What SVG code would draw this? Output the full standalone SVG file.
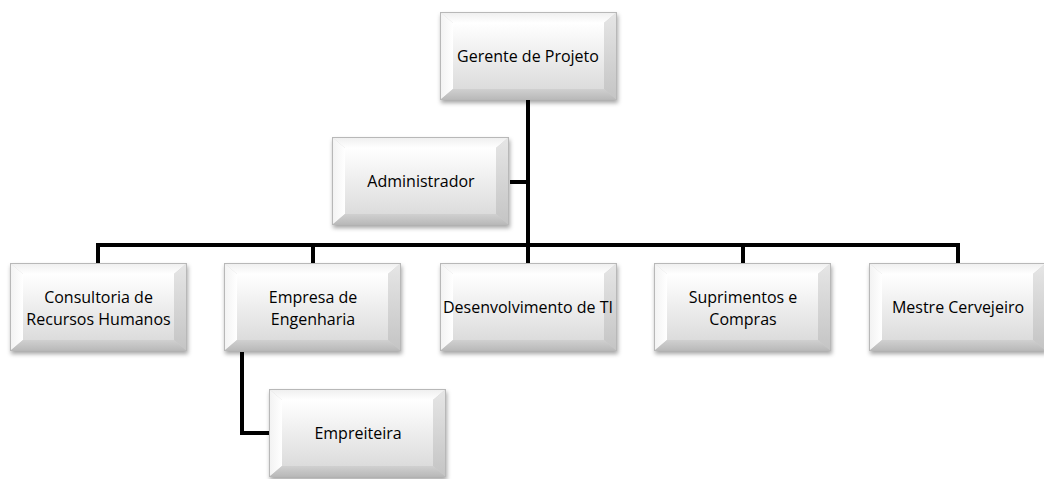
<svg xmlns="http://www.w3.org/2000/svg" xmlns:xlink="http://www.w3.org/1999/xlink" width="1044" height="479" viewBox="0 0 1044 479">
<defs>
<style>
.lbl{font-family:"Open Sans","Liberation Sans",sans-serif;font-size:16px;fill:#000;text-anchor:middle;dominant-baseline:central}
.conn{fill:none;stroke:#000;stroke-width:4;stroke-linejoin:miter;stroke-linecap:butt}
</style>
<linearGradient id="face" x1="0" y1="0" x2="0" y2="1">
<stop offset="0" stop-color="#ffffff"/>
<stop offset="1" stop-color="#dcdcdc"/>
</linearGradient>
<linearGradient id="topB" x1="0" y1="0" x2="0" y2="1">
<stop offset="0" stop-color="#eeeeee"/>
<stop offset="1" stop-color="#ffffff"/>
</linearGradient>
<linearGradient id="leftB" x1="0" y1="0" x2="1" y2="0">
<stop offset="0" stop-color="#f2f2f2"/>
<stop offset="1" stop-color="#ffffff"/>
</linearGradient>
<linearGradient id="rightB" x1="0" y1="0" x2="0" y2="1">
<stop offset="0" stop-color="#e6e6e6"/>
<stop offset="1" stop-color="#c4c4c4"/>
</linearGradient>
<linearGradient id="botB" x1="0" y1="0" x2="0" y2="1">
<stop offset="0" stop-color="#d0d0d0"/>
<stop offset="1" stop-color="#b8b8b8"/>
</linearGradient>
<filter id="sh" x="-10%" y="-10%" width="125%" height="130%">
<feDropShadow dx="1" dy="3" stdDeviation="2" flood-color="#000" flood-opacity="0.35"/>
</filter>
<g id="box">
<rect x="0" y="0" width="177" height="88" fill="#cfcfcf" filter="url(#sh)"/>
<polygon points="0,0 177,0 164,11 13,11" fill="url(#topB)"/>
<polygon points="0,0 13,11 13,77 0,88" fill="url(#leftB)"/>
<polygon points="177,0 177,88 164,77 164,11" fill="url(#rightB)"/>
<polygon points="0,88 13,77 164,77 177,88" fill="url(#botB)"/>
<rect x="13" y="11" width="151" height="66" fill="url(#face)"/>
<rect x="0.5" y="0.5" width="176" height="87" fill="none" stroke="#b8b8b8" stroke-width="1"/>
</g>
</defs>
<rect width="1044" height="479" fill="#ffffff"/>
<g id="connectors">
<path class="conn" d="M528,99 V245"/>
<path class="conn" d="M510,182 H528"/>
<path class="conn" d="M98,263 V245 H958 V263"/>
<path class="conn" d="M313,245 V263"/>
<path class="conn" d="M528,245 V263"/>
<path class="conn" d="M743,245 V263"/>
<path class="conn" d="M242,352 V433 H269"/>
</g>
<g id="gerente">
<use xlink:href="#box" x="440" y="12"/>
<text class="lbl" x="528" y="56">Gerente de Projeto</text>
</g>
<g id="administrador">
<use xlink:href="#box" x="332" y="137"/>
<text class="lbl" x="421" y="181">Administrador</text>
</g>
<g id="consultoria">
<use xlink:href="#box" x="10" y="263"/>
<text class="lbl" x="98.5" y="297">Consultoria de</text>
<text class="lbl" x="98.5" y="319">Recursos Humanos</text>
</g>
<g id="empresa">
<use xlink:href="#box" x="224" y="263"/>
<text class="lbl" x="313" y="297">Empresa de</text>
<text class="lbl" x="313" y="319">Engenharia</text>
</g>
<g id="desenvolvimento">
<use xlink:href="#box" x="440" y="263"/>
<text class="lbl" x="528" y="307">Desenvolvimento de TI</text>
</g>
<g id="suprimentos">
<use xlink:href="#box" x="654" y="263"/>
<text class="lbl" x="743" y="297">Suprimentos e</text>
<text class="lbl" x="743" y="319">Compras</text>
</g>
<g id="mestre">
<use xlink:href="#box" x="869" y="263"/>
<text class="lbl" x="958" y="307">Mestre Cervejeiro</text>
</g>
<g id="empreiteira">
<use xlink:href="#box" x="269" y="389"/>
<text class="lbl" x="358" y="433">Empreiteira</text>
</g>
</svg>
